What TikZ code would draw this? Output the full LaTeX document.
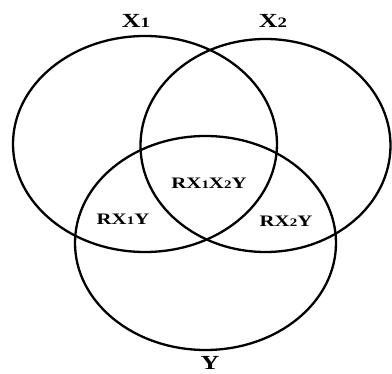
\documentclass[tikz,border=0pt]{standalone}
\usepackage{fontspec}
\setmainfont{Liberation Serif}
\newfontfamily\vennfont[FakeStretch=1.3]{Liberation Serif}
\usetikzlibrary{shapes.geometric}
\newcommand{\sm}[1]{\scalebox{0.72}{#1}}

\begin{document}
\begin{tikzpicture}[
  x=1pt,y=-1pt,
  set/.style={draw,ellipse,line width=2.3pt,inner sep=0pt},
  setlabel/.style={font=\vennfont\bfseries\fontsize{20}{20}\selectfont,inner sep=0pt},
  region/.style={font=\vennfont\bfseries\fontsize{16}{16}\selectfont,inner sep=0pt}
]
\useasboundingbox (0,0) rectangle (392,374);
% Sets
\node[set,minimum width=264pt,minimum height=216pt] (x1) at (145,144) {};
\node[set,minimum width=250pt,minimum height=213pt] (x2) at (265.5,145.5) {};
\node[set,minimum width=261pt,minimum height=214pt] (y) at (205.5,243) {};
% Set names
\node[setlabel] (nx1) at (136,20.5) {X\sm{1}};
\node[setlabel] (nx2) at (273,20.5) {X\sm{2}};
\node[setlabel] (ny) at (210,363) {Y};
% Regions
\node[region] (r12) at (209,183) {RX\sm{1}X\sm{2}Y};
\node[region] (r1) at (123,219) {RX\sm{1}Y};
\node[region] (r2) at (286,221) {RX\sm{2}Y};
\end{tikzpicture}
\end{document}
